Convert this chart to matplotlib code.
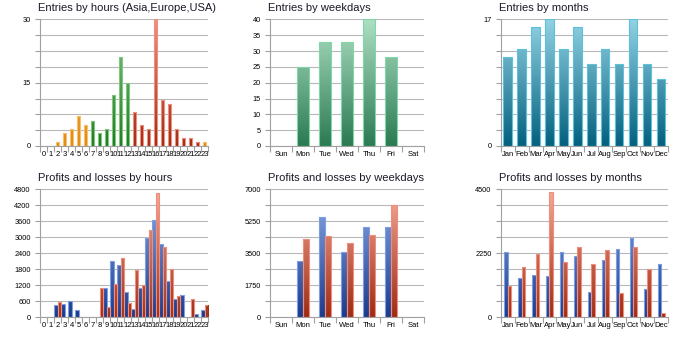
import numpy as np
import matplotlib
matplotlib.use("Agg")
import matplotlib.pyplot as plt
from matplotlib.colors import LinearSegmentedColormap
from matplotlib.ticker import FixedLocator, FuncFormatter

plt.rcParams['font.family'] = ['Liberation Sans', 'DejaVu Sans']

# categories
hours = [str(h) for h in range(24)]
weekdays = ["Sun", "Mon", "Tue", "Wed", "Thu", "Fri", "Sat"]
months = ["Jan", "Feb", "Mar", "Apr", "May", "Jun",
          "Jul", "Aug", "Sep", "Oct", "Nov", "Dec"]

# entries
entries_hours = [0, 0, 1, 3, 4, 7, 5, 6, 3, 4, 12, 21, 15, 8, 5, 4, 30, 11, 10, 4, 2, 2, 1, 1]
hour_region = ["Asia"] * 7 + ["Europe"] * 6 + ["USA"] * 10 + ["Asia"]
entries_weekdays = [0, 25, 33, 33, 40, 28, 0]
entries_months = [12, 13, 16, 17, 13, 16, 11, 13, 11, 17, 11, 9]

# profits (blue) and losses (red)
profit_hours = [0, 0, 450, 490, 600, 260, 0, 0, 0, 1090, 2110, 1960,
                950, 290, 1100, 2990, 3650, 2740, 1350, 690, 825, 0, 100, 250]
loss_hours = [0, 0, 550, 0, 0, 0, 0, 0, 1090, 360, 1250, 2220,
              510, 1760, 1190, 3290, 4675, 2625, 1790, 790, 0, 675, 0, 450]
profit_weekdays = [0, 3070, 5480, 3580, 4940, 4940, 0]
loss_weekdays = [0, 4300, 4440, 4040, 4480, 6140, 0]
profit_months = [2290, 1360, 1490, 1450, 2280, 2150, 890, 2020, 2400, 2800, 1000, 1880]
loss_months = [1100, 1760, 2220, 4410, 1940, 2470, 1870, 2370, 850, 2470, 1690, 140]

# colour ramps: (bottom, top, edge)
GREEN = ("#2a7a52", "#aee0c4", "#80d6a4")
CYAN = ("#03607e", "#92d3e4", "#5cc2dc")
BLUE = ("#1c3a8c", "#8eaeea", "#7c9ee2")
RED = ("#a02a12", "#f7ab9a", "#ee8e7c")
REGION = {
    "Asia": ("#e08a10", "#ffc050", "#f8c070"),
    "Europe": ("#1c7a1c", "#88c888", "#80c880"),
    "USA": ("#a0280f", "#f29080", "#ee9080"),
}
GRID = "#b8b8b8"
AXIS = "#a0a0a0"


def grad_bars(ax, x, heights, width, colors, ymax):
    bottom, top, edge = colors
    cmap = LinearSegmentedColormap.from_list("ramp", [bottom, top])
    ramp = np.linspace(0, 1, 256).reshape(-1, 1)
    bars = ax.bar(x, heights, width, facecolor="none", edgecolor=edge,
                  linewidth=0.8, zorder=3)
    for b in bars:
        if b.get_height() <= 0:
            b.set_visible(False)
            continue
        x0 = b.get_x()
        im = ax.imshow(ramp, cmap=cmap, origin="lower", aspect="auto",
                       extent=(x0, x0 + b.get_width(), 0, ymax),
                       interpolation="bilinear", zorder=2)
        im.set_clip_path(b)
    return bars


def setup(ax, labels, ymax, nlines, label_every, title):
    n = len(labels)
    ax.set_xlim(-0.5, n - 0.5)
    ax.set_ylim(0, ymax * 1.003)
    step = ymax / nlines
    levels = [step * i for i in range(nlines + 1)]
    ax.yaxis.set_major_locator(FixedLocator(levels[::label_every]))
    ax.yaxis.set_minor_locator(FixedLocator(levels))
    ax.yaxis.set_major_formatter(FuncFormatter(lambda v, p: f"{v:.0f}"))
    ax.grid(True, axis="y", which="both", color=GRID, linewidth=0.8, zorder=0)
    ax.set_axisbelow(True)
    ax.xaxis.set_major_locator(FixedLocator(range(n)))
    ax.set_xticklabels(labels)
    ax.xaxis.set_minor_locator(FixedLocator(np.arange(n + 1) - 0.5))
    ax.tick_params(axis="x", which="major", length=0, pad=3.5, labelsize=5.5)
    ax.tick_params(axis="x", which="minor", length=4.2, width=0.8, color=AXIS)
    ax.tick_params(axis="y", which="both", length=3.6, width=0.8, color=AXIS,
                   labelsize=5.3, pad=3)
    for s in ("top", "right"):
        ax.spines[s].set_visible(False)
    for s in ("left", "bottom"):
        ax.spines[s].set_color(AXIS)
        ax.spines[s].set_linewidth(0.8)
    ax.annotate(title, xy=(0, 1), xycoords="axes fraction", xytext=(-1.5, 7.6),
                textcoords="offset points", ha="left", va="center",
                fontsize=8, color="#1a1a28")


fig = plt.figure(figsize=(6.76, 3.45), dpi=100)
W, H = 676, 345


def add_axes(x0, x1, y0, y1):
    return fig.add_axes([x0 / W, 1 - y1 / H, (x1 - x0) / W, (y1 - y0) / H])


cols = [(40, 208), (270, 424), (500.7, 668)]
top_row = (19, 146)
bot_row = (189, 317)

# Entries by hours
ax = add_axes(*cols[0], *top_row)
xh = np.arange(len(hours))
for region, colors in REGION.items():
    vals = [v if r == region else 0 for v, r in zip(entries_hours, hour_region)]
    grad_bars(ax, xh, vals, 0.57, colors, 30)
setup(ax, hours, 30, 8, 4, "Entries by hours (Asia,Europe,USA)")

# Entries by weekdays
ax = add_axes(*cols[1], *top_row)
grad_bars(ax, np.arange(7), entries_weekdays, 0.52, GREEN, 40)
setup(ax, weekdays, 40, 8, 1, "Entries by weekdays")

# Entries by months
ax = add_axes(*cols[2], *top_row)
grad_bars(ax, np.arange(12), entries_months, 0.6, CYAN, 17)
setup(ax, months, 17, 8, 8, "Entries by months")

# Profits and losses by hours
ax = add_axes(*cols[0], *bot_row)
grad_bars(ax, xh - 0.25, profit_hours, 0.5, BLUE, 4800)
grad_bars(ax, xh + 0.25, loss_hours, 0.5, RED, 4800)
setup(ax, hours, 4800, 8, 1, "Profits and losses by hours")

# Profits and losses by weekdays
ax = add_axes(*cols[1], *bot_row)
xw = np.arange(7)
grad_bars(ax, xw - 0.13, profit_weekdays, 0.26, BLUE, 7000)
grad_bars(ax, xw + 0.13, loss_weekdays, 0.26, RED, 7000)
setup(ax, weekdays, 7000, 8, 2, "Profits and losses by weekdays")

# Profits and losses by months
ax = add_axes(*cols[2], *bot_row)
xm = np.arange(12)
grad_bars(ax, xm - 0.125, profit_months, 0.25, BLUE, 4500)
grad_bars(ax, xm + 0.125, loss_months, 0.25, RED, 4500)
setup(ax, months, 4500, 8, 4, "Profits and losses by months")

fig.savefig("out.png", dpi=100)
